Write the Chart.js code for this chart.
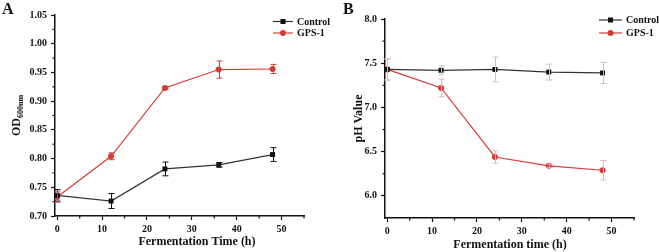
<!DOCTYPE html>
<html>
<head>
<meta charset="utf-8">
<script src="https://cdn.jsdelivr.net/npm/chart.js@4.4.1/dist/chart.umd.min.js"></script>
<style>
  html, body { margin: 0; padding: 0; background: #fff; }
  .wrap { position: relative; width: 659px; height: 252px; }
  .panel { position: absolute; top: 0; height: 252px; }
  #pA { left: 0; width: 330px; }
  #pB { left: 330px; width: 329px; }
</style>
</head>
<body>
<div class="wrap">
  <div class="panel" id="pA"><canvas id="chartA"></canvas></div>
  <div class="panel" id="pB"><canvas id="chartB"></canvas></div>
</div>
<script>
// ── données ────────────────────────────────────────────────────────────────
const hours = [0, 12, 24, 36, 48];
const seriesNames = ['Control', 'GPS-1'];

const odControl    = [0.736, 0.726, 0.782, 0.789, 0.807];
const odControlErr = [0.010, 0.013, 0.012, 0.004, 0.012];
const odGps        = [0.733, 0.804, 0.923, 0.955, 0.956];
const odGpsErr     = [0.009, 0.006, 0.002, 0.015, 0.008];

const phControl    = [7.43, 7.42, 7.43, 7.40, 7.39];
const phControlErr = [0.12, 0.05, 0.14, 0.09, 0.12];
const phGps        = [7.43, 7.22, 6.44, 6.34, 6.29];
const phGpsErr     = [0.12, 0.10, 0.07, 0.02, 0.11];

const xTicks  = [0, 10, 20, 30, 40, 50];
const odTicks = [0.70, 0.75, 0.80, 0.85, 0.90, 0.95, 1.00, 1.05];
const phTicks = [6.0, 6.5, 7.0, 7.5, 8.0];

const FONT = "'Liberation Serif', 'Times New Roman', serif";
const BLACK = '#111';
const RED = '#d63b36';

const pts = (ys) => hours.map((h, i) => ({ x: h, y: ys[i] }));

function makePanel(canvasId, cfg) {
  // barres d'erreur + ticks secondaires + légende + titres
  const decor = {
    id: 'decor',
    afterDatasetsDraw(chart) {
      const { ctx, scales: { x, y }, chartArea: a } = chart;
      ctx.save();
      // barres d'erreur
      cfg.errors.forEach((errs, di) => {
        const vals = cfg.series[di];
        ctx.strokeStyle = cfg.errColors[di];
        ctx.lineWidth = 1;
        hours.forEach((h, i) => {
          const px = Math.round(x.getPixelForValue(h)) + 0.5;
          const y1 = y.getPixelForValue(vals[i] + errs[i]);
          const y2 = y.getPixelForValue(vals[i] - errs[i]);
          ctx.beginPath();
          ctx.moveTo(px, y1); ctx.lineTo(px, y2);
          ctx.moveTo(px - 3, y1); ctx.lineTo(px + 3, y1);
          ctx.moveTo(px - 3, y2); ctx.lineTo(px + 3, y2);
          ctx.stroke();
        });
      });
      // ticks secondaires
      ctx.strokeStyle = BLACK;
      ctx.lineWidth = 1.2;
      for (let v = 5; v <= 55; v += 10) {
        const px = x.getPixelForValue(v);
        ctx.beginPath(); ctx.moveTo(px, a.bottom); ctx.lineTo(px, a.bottom + 2.5); ctx.stroke();
      }
      cfg.minorY.forEach(v => {
        const py = y.getPixelForValue(v);
        ctx.beginPath(); ctx.moveTo(a.left, py); ctx.lineTo(a.left - 2.5, py); ctx.stroke();
      });
      // légende
      const L = cfg.legend;
      seriesNames.forEach((name, i) => {
        const ly = L.y + i * L.dy;
        const col = i === 0 ? BLACK : RED;
        ctx.strokeStyle = i === 0 ? '#333' : RED;
        ctx.lineWidth = 1.2;
        ctx.beginPath(); ctx.moveTo(L.x0, ly); ctx.lineTo(L.x1, ly); ctx.stroke();
        ctx.fillStyle = col;
        const mx = (L.x0 + L.x1) / 2;
        if (i === 0) ctx.fillRect(mx - 2.5, ly - 2.5, 5, 5);
        else { ctx.beginPath(); ctx.arc(mx, ly, 3, 0, Math.PI * 2); ctx.fill(); }
        ctx.fillStyle = BLACK;
        ctx.font = 'bold 10px ' + FONT;
        ctx.textBaseline = 'middle';
        ctx.textAlign = 'left';
        ctx.fillText(name, L.tx, ly + 0.5);
      });
      // lettre du panneau
      ctx.font = 'bold 16px ' + FONT;
      ctx.textBaseline = 'top';
      ctx.fillText(cfg.letter, cfg.letterPos[0], cfg.letterPos[1]);
      // titre x
      ctx.font = 'bold 12px ' + FONT;
      ctx.textAlign = 'center';
      ctx.textBaseline = 'middle';
      ctx.fillText(cfg.xTitle, cfg.xTitlePos[0], cfg.xTitlePos[1]);
      // titre y (avec indice éventuel)
      ctx.translate(cfg.yTitlePos[0], (a.top + a.bottom) / 2);
      ctx.rotate(-Math.PI / 2);
      ctx.font = 'bold 12px ' + FONT;
      const w1 = ctx.measureText(cfg.yTitle).width;
      let w2 = 0;
      if (cfg.ySub) { ctx.font = 'bold 8px ' + FONT; w2 = ctx.measureText(cfg.ySub).width; }
      const start = -(w1 + w2) / 2;
      ctx.textAlign = 'left';
      ctx.font = 'bold 12px ' + FONT;
      ctx.fillText(cfg.yTitle, start, 0);
      if (cfg.ySub) { ctx.font = 'bold 8px ' + FONT; ctx.fillText(cfg.ySub, start + w1, 4); }
      ctx.restore();
    }
  };

  return new Chart(document.getElementById(canvasId), {
    type: 'line',
    data: {
      datasets: [
        { label: seriesNames[0], data: pts(cfg.series[0]), borderColor: '#333', borderWidth: 1.2,
          pointStyle: 'rect', pointRadius: 3.5, pointBackgroundColor: BLACK, pointBorderColor: BLACK,
          pointBorderWidth: 0, tension: 0 },
        { label: seriesNames[1], data: pts(cfg.series[1]), borderColor: RED, borderWidth: 1.2,
          pointStyle: 'circle', pointRadius: 3, pointBackgroundColor: RED, pointBorderColor: RED,
          pointBorderWidth: 0, tension: 0 },
      ],
    },
    options: {
      responsive: false, animation: false,
      layout: { padding: cfg.padding },
      plugins: { legend: { display: false }, tooltip: { enabled: false } },
      scales: {
        x: {
          type: 'linear', min: -0.5, max: 55,
          afterBuildTicks: s => { s.ticks = xTicks.map(v => ({ value: v })); },
          afterFit: s => { s.height = cfg.xHeight; s.paddingLeft = 0; s.paddingRight = 0; },
          grid: { drawOnChartArea: false, drawTicks: true, tickLength: 4, tickWidth: 1.2, tickColor: BLACK },
          border: { color: BLACK, width: 1.5 },
          ticks: { autoSkip: false, maxRotation: 0, padding: cfg.xTickPad, color: BLACK,
                   font: { family: FONT, size: 10, weight: 'bold' } },
        },
        y: {
          min: cfg.yMin, max: cfg.yMax,
          afterBuildTicks: s => { s.ticks = cfg.yTicks.map(v => ({ value: v })); },
          afterFit: s => { s.width = 55; s.paddingTop = 0; s.paddingBottom = 0; },
          grid: { drawOnChartArea: false, drawTicks: true, tickLength: 4, tickWidth: 1.2, tickColor: BLACK },
          border: { color: BLACK, width: 1.5 },
          ticks: { padding: 4, color: BLACK, callback: v => v.toFixed(cfg.yDec),
                   font: { family: FONT, size: 10, weight: 'bold' } },
        },
      },
    },
    plugins: [decor],
  });
}

document.getElementById('chartA').width = 330;
document.getElementById('chartA').height = 252;
document.getElementById('chartB').width = 329;
document.getElementById('chartB').height = 252;

makePanel('chartA', {
  series: [odControl, odGps], errors: [odControlErr, odGpsErr],
  errColors: [BLACK, RED],
  yMin: 0.70, yMax: 1.05, yTicks: odTicks, yDec: 2,
  minorY: [0.725, 0.775, 0.825, 0.875, 0.925, 0.975, 1.025],
  padding: { left: 0, right: 26, top: 15, bottom: 0 }, xHeight: 36, xTickPad: 3,
  legend: { x0: 273, x1: 293, tx: 297, y: 21.5, dy: 11.5 },
  letter: 'A', letterPos: [2, 2],
  xTitle: 'Fermentation Time (h)', xTitlePos: [197, 242],
  yTitle: 'OD', ySub: '600nm', yTitlePos: [17],
});

makePanel('chartB', {
  series: [phControl, phGps], errors: [phControlErr, phGpsErr],
  errColors: ['#c9c4c4', '#e6b4b2'],
  yMin: 5.75, yMax: 8.0, yTicks: phTicks, yDec: 1,
  minorY: [6.25, 6.75, 7.25, 7.75],
  padding: { left: 0, right: 25, top: 19, bottom: 0 }, xHeight: 34, xTickPad: 3,
  legend: { x0: 269, x1: 292, tx: 296, y: 20, dy: 13 },
  letter: 'B', letterPos: [13, 2],
  xTitle: 'Fermentation time (h)', xTitlePos: [180, 245],
  yTitle: 'pH Value', ySub: '', yTitlePos: [29],
});
</script>
</body>
</html>
